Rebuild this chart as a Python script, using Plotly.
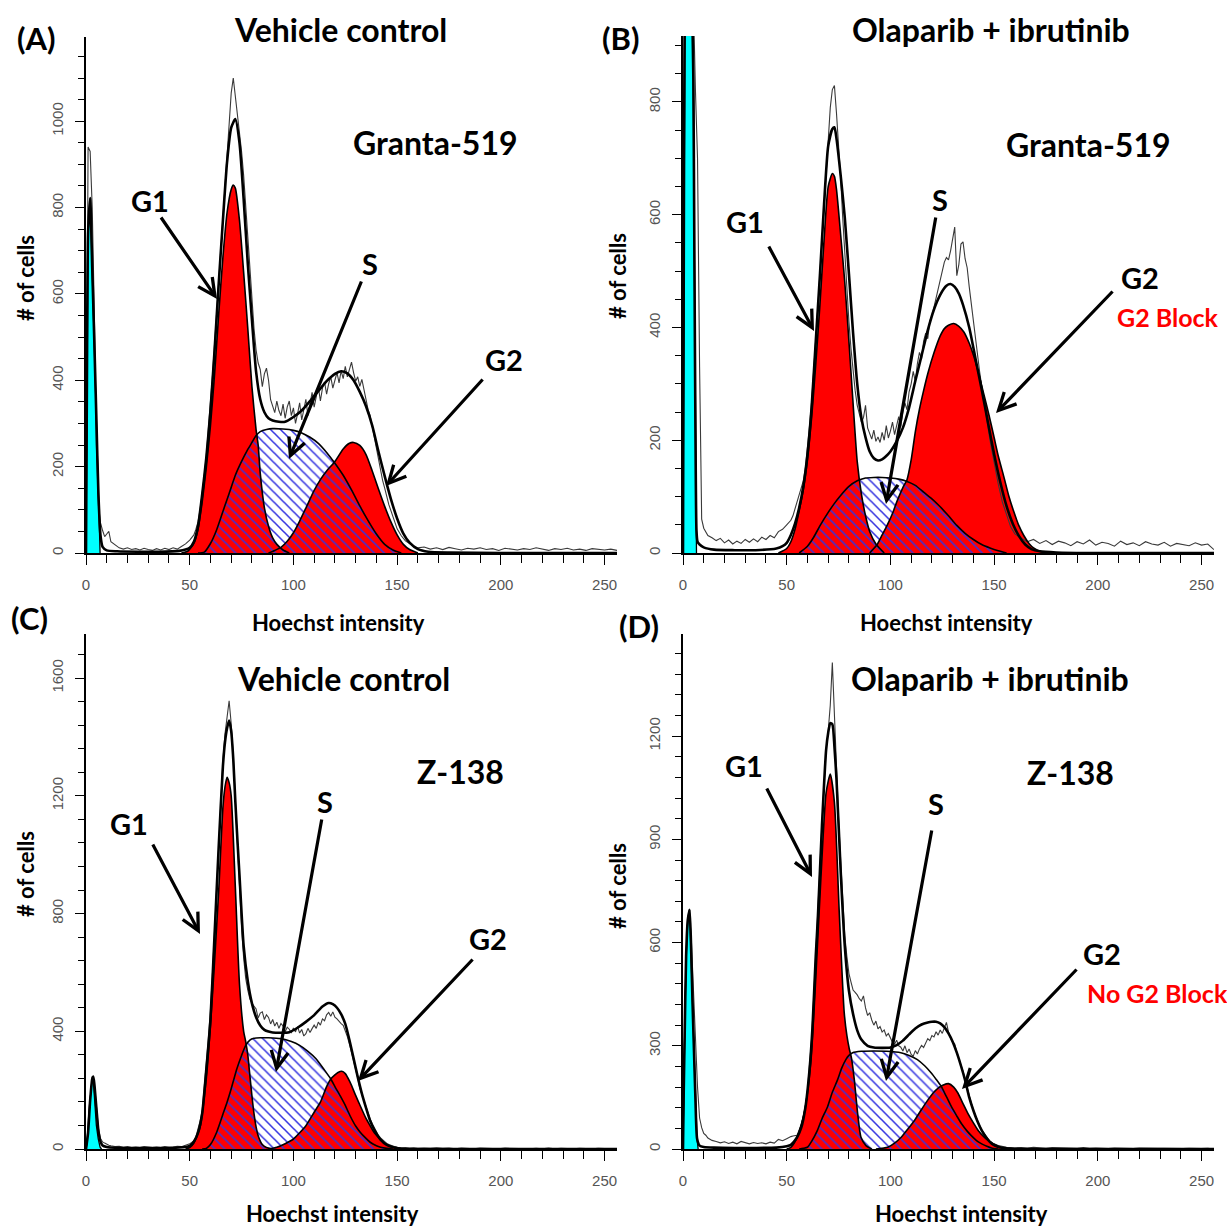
import plotly.graph_objects as go

W, H = 1227, 1228
RED = '#ff0000'
CYAN = '#00ffff'
HATCH = '#3434e0'

# ---------------- channel grid for raw histograms ----------------
RAW_X = (list(range(0, 13)) + list(range(14, 50, 2)) + list(range(50, 151))
         + list(range(152, 161, 2)) + list(range(163, 257, 3)))

# ---------------- Panel A : Granta-519, vehicle control ----------------
A_raw_y = ([0, 940, 930, 800, 560, 250, 110, 70, 52, 38, 44, 50, 26]
           + [18, 12, 9, 12, 8, 10, 7, 11, 8, 6, 10, 7, 11, 8, 12, 9, 15, 21]
           + [30, 36, 42, 55, 72, 100, 135, 178, 225, 282,
              345, 412, 485, 560, 640, 715, 790, 860, 930, 1000,
              1065, 1100, 1060, 1020, 975, 930, 875, 800, 720, 650,
              580, 520, 470, 440, 425, 385, 415, 428, 400, 355,
              340, 325, 352, 330, 318, 345, 312, 338, 352, 318,
              336, 300, 322, 348, 308, 332, 356, 318, 346, 372,
              338, 366, 386, 352, 382, 396, 368, 392, 408, 382,
              402, 418, 394, 422, 404, 432, 408, 426, 442, 418,
              398, 408, 386, 402, 378, 352, 332, 318, 292, 268,
              238, 214, 188, 168, 150, 128, 112, 98, 84, 70,
              56]
           + [40, 28, 22, 15, 12]
           + [14, 9, 12, 8, 13, 10, 7, 11, 9, 12, 8, 10, 6, 11, 9, 7, 10, 8, 12, 9, 6, 10, 8, 11, 7, 9, 6, 10, 8, 7, 9, 6])
A_deb_x = [0, 0.4, 1, 2, 3, 4, 5, 6, 6.8]
A_deb_y = [0, 420, 740, 822, 660, 490, 310, 130, 0]
A_fit_x = [0, 0.5, 1, 2, 3, 4, 5, 6, 7, 8, 10, 15, 25, 35, 45, 48, 50, 52, 54, 56, 58, 60, 62, 64, 66, 68,
           70, 72, 74, 76, 78, 80, 82, 84, 86, 88, 90, 93, 96, 100, 104, 108, 112, 116, 120, 123,
           126, 129, 132, 135, 138, 141, 144, 147, 150, 153, 156, 160, 165, 175, 200, 256]
A_fit_y = [0, 450, 740, 822, 662, 492, 312, 135, 40, 14, 6, 4, 3, 3, 5, 8, 12, 26, 62, 135, 220, 330, 470, 625, 770, 905,
           985, 1005, 950, 820, 670, 540, 420, 356, 326, 312, 307, 304, 304, 315, 330, 352, 375, 398, 415, 421,
           416, 400, 373, 340, 295, 235, 178, 125, 80, 45, 24, 9, 3, 1, 0, 0]
A_g1_x = [46, 49, 52, 54, 56, 58, 60, 62, 64, 66, 68, 70, 71, 72, 74, 76, 78, 80, 82, 83, 84, 86, 88, 90, 92, 95, 98]
A_g1_y = [0, 4, 22, 55, 118, 198, 295, 415, 555, 685, 788, 842, 852, 845, 770, 650, 520, 385, 285, 250, 185, 105, 62, 35, 20, 7, 0]
A_s_x = [54, 57, 60, 63, 66, 68, 70, 72, 75, 78, 80, 82, 84, 87, 90, 95, 100, 104, 108, 112, 116, 120, 124, 128, 132, 136, 140, 144, 148, 152]
A_s_y = [0, 2, 22, 54, 96, 124, 152, 180, 212, 240, 256, 272, 281, 286, 288, 287, 284, 278, 268, 254, 233, 208, 180, 146, 109, 75, 44, 20, 7, 0]
A_g2_x = [88, 91, 94, 97, 100, 103, 106, 110, 113, 116, 120, 124, 127, 129, 132, 135, 138, 141, 144, 147, 150, 153, 156, 160]
A_g2_y = [0, 6, 13, 27, 47, 74, 104, 145, 170, 190, 212, 241, 254, 256, 249, 228, 190, 148, 108, 72, 42, 20, 8, 0]

# ---------------- Panel B : Granta-519, olaparib + ibrutinib ----------------
B_raw_y = ([0, 1400, 1800, 1550, 1250, 980, 820, 700, 330, 60, 44, 36, 31]
           + [27, 22, 26, 18, 23, 16, 21, 17, 24, 19, 25, 20, 28, 24, 31, 27, 38, 42]
           + [50, 54, 58, 66, 78, 92, 100, 112, 128, 150,
              185, 225, 268, 320, 378, 435, 495, 555, 620, 680,
              730, 790, 822, 829, 780, 730, 665, 595, 525, 465,
              410, 362, 320, 288, 262, 245, 232, 240, 262, 222,
              210, 202, 218, 198, 206, 196, 214, 200, 226, 204,
              216, 232, 210, 226, 242, 224, 252, 266, 254, 286,
              300, 322, 304, 336, 356, 344, 376, 390, 380, 412,
              420, 436, 452, 470, 482, 500, 516, 524, 520, 536,
              560, 578, 492, 512, 548, 552, 522, 506, 472, 440,
              410, 380, 350, 322, 296, 270, 246, 222, 200, 180,
              160]
           + [122, 90, 66, 46, 34]
           + [26, 20, 24, 17, 22, 15, 21, 18, 13, 20, 16, 23, 14, 19, 17, 12, 21, 15, 18, 13, 20, 16, 14, 19, 12, 17, 15, 13, 18, 14, 16, 6])
B_deb_x = [0, 0.5, 1, 2, 3, 4, 4.5, 5, 5.5, 6, 6.5]
B_deb_y = [0, 700, 1050, 1350, 1250, 1050, 950, 840, 520, 220, 0]
B_fit_x = [0, 0.5, 1, 2, 3, 4, 4.5, 5, 5.5, 6, 6.5, 7, 8, 10, 15, 25, 35, 45, 48, 50, 52, 54, 56, 58, 60, 62, 64, 66, 68, 70,
           72, 73, 74, 76, 78, 80, 82, 84, 86, 88, 90, 92, 94, 96, 98, 100, 103, 106, 109, 112,
           115, 118, 121, 124, 127, 129, 131, 133, 135, 138, 141, 144, 147, 150, 153, 156, 159, 162, 165, 168,
           172, 180, 200, 256]
B_fit_y = [0, 700, 1050, 1350, 1250, 1050, 950, 840, 520, 220, 40, 20, 15, 10, 6, 5, 5, 8, 12, 18, 32, 52, 80, 118, 175, 258, 375, 492, 618, 722,
           752, 755, 735, 670, 595, 495, 390, 300, 240, 205, 180, 168, 164, 166, 172, 180, 198, 222, 258, 305,
           350, 395, 432, 458, 474, 477, 472, 460, 440, 400, 345, 290, 232, 175, 125, 83, 52, 30, 15, 7,
           3, 1, 0, 0]
B_g1_x = [46, 50, 52, 54, 56, 58, 60, 62, 64, 66, 68, 70, 72, 73, 74, 76, 78, 80, 82, 84, 86, 88, 90, 93, 97]
B_g1_y = [0, 8, 20, 42, 75, 112, 165, 240, 335, 440, 555, 650, 673, 668, 645, 565, 480, 375, 265, 162, 105, 66, 38, 16, 0]
B_s_x = [56, 60, 63, 66, 70, 73, 76, 80, 84, 88, 92, 96, 100, 104, 108, 112, 116, 120, 124, 128, 132, 136, 140, 144, 148, 152, 156]
B_s_y = [0, 12, 28, 48, 72, 88, 102, 118, 128, 133, 134, 134, 133, 131, 127, 120, 108, 96, 82, 66, 49, 35, 24, 15, 9, 4, 0]
B_g2_x = [90, 93.6, 96, 98.4, 101, 103.2, 106, 108, 110, 112, 114, 116, 118, 121, 124, 126, 128, 130.5, 133, 135.4,
          138, 140.2, 143, 145, 147.5, 149.8, 152, 154.7, 157, 159.5, 162, 164.3, 167, 169, 172, 175]
B_g2_y = [0, 15, 32, 49, 70, 92, 116, 130, 165, 215, 255, 288, 318, 355, 385, 398, 404, 407, 402, 392,
          372, 349, 312, 282, 245, 208, 172, 135, 102, 73, 48, 31, 16, 9, 3, 0]

# ---------------- Panel C : Z-138, vehicle control ----------------
C_raw_y = ([0, 60, 170, 246, 225, 150, 70, 36, 24, 20, 15, 13, 11]
           + [8, 9, 6, 8, 5, 7, 5, 8, 6, 5, 7, 5, 8, 6, 7, 9, 8, 12]
           + [18, 22, 28, 42, 65, 95, 130, 200, 290, 375,
              470, 600, 750, 910, 1070, 1200, 1320, 1410, 1470, 1523,
              1445, 1335, 1185, 1025, 880, 750, 650, 580, 540, 510,
              495, 485, 476, 445, 462, 466, 440, 456, 447, 425,
              440, 418, 431, 410, 426, 418, 398, 414, 407, 394,
              411, 398, 416, 394, 406, 384, 392, 410, 396, 409,
              421, 410, 431, 421, 442, 436, 456, 464, 451, 466,
              448, 442, 432, 426, 420, 402, 382, 356, 330, 302,
              272, 242, 207, 186, 162, 140, 120, 101, 86, 71,
              56, 46, 38, 31, 25, 19, 15, 12, 10, 8,
              6]
           + [4, 5, 3, 4, 2]
           + [3, 2, 4, 2, 3, 1, 3, 2, 1, 3, 2, 2, 1, 3, 2, 1, 2, 1, 2, 1, 3, 1, 2, 1, 1, 2, 1, 1, 2, 1, 1, 0])
C_deb_x = [0, 0.5, 1.5, 2.5, 3.1, 3.6, 4.3, 5, 5.9, 6.8, 7.5]
C_deb_y = [0, 20, 136, 220, 244, 225, 140, 80, 34, 6, 0]
C_fit_x = [0, 1, 2, 3, 3.5, 4, 5, 6, 7, 8, 10, 15, 25, 35, 45, 48, 50, 52, 54, 56, 58, 60, 62, 64, 66, 67, 68, 69, 70, 71,
           72, 73, 74, 76, 78, 80, 82, 84, 86, 88, 90, 94, 98, 102, 106, 110, 114, 117, 119, 121,
           123, 125, 127, 129, 131, 133, 135, 137, 139, 142, 145, 148, 152, 160, 256]
C_fit_y = [0, 55, 165, 238, 246, 222, 140, 60, 25, 12, 7, 4, 3, 3, 5, 7, 11, 25, 55, 120, 270, 440, 730, 1030, 1300, 1382, 1430, 1456, 1420, 1325,
           1180, 1050, 930, 690, 570, 495, 448, 420, 405, 399, 396, 395, 397, 412, 432, 455, 484, 496, 492, 480,
           458, 425, 370, 308, 245, 188, 140, 96, 65, 32, 14, 6, 1, 0, 0]
C_g1_x = [48, 50, 52, 55, 58, 60, 62, 64, 66, 67, 68, 69, 70, 72, 74, 76, 77, 78, 79, 80, 81, 82, 83, 85, 87, 90]
C_g1_y = [0, 5, 20, 75, 240, 420, 640, 880, 1160, 1230, 1263, 1245, 1200, 890, 560, 400, 365, 320, 250, 180, 120, 75, 45, 15, 5, 0]
C_s_x = [56, 58, 60, 63, 66, 68, 70, 72.7, 75, 77, 79, 81, 84, 88, 94, 99, 103, 107, 111, 115, 118, 120, 122.5, 125,
         127.3, 130, 132.2, 135, 137, 140, 142, 145, 148]
C_s_y = [0, 2, 15, 57, 118, 159, 205, 272, 318, 352, 370, 376, 378, 378, 375, 365, 352, 332, 306, 268, 238, 212, 181, 148,
         113, 78, 57, 36, 23, 11, 6, 2, 0]
C_g2_x = [88, 92, 96, 100, 103, 106, 110, 113, 116, 118, 120, 121.5, 123.3, 125, 127.3, 130, 132.2, 135, 137, 139, 141.8, 144, 146.6, 150, 154]
C_g2_y = [0, 6, 18, 34, 55, 79, 125, 159, 212, 238, 252, 260, 264, 256, 227, 182, 147, 104, 79, 55, 34, 20, 9, 2, 0]

# ---------------- Panel D : Z-138, olaparib + ibrutinib ----------------
D_raw_y = ([0, 420, 640, 697, 610, 460, 310, 180, 90, 62, 45, 40, 32]
           + [25, 22, 18, 21, 16, 20, 15, 22, 18, 15, 19, 16, 18, 15, 20, 17, 28, 24]
           + [30, 34, 36, 38, 39, 40, 55, 70, 95, 125,
              170, 240, 320, 440, 575, 690, 810, 945, 1060, 1160,
              1215, 1290, 1414, 1250, 1110, 960, 840, 720, 620, 560,
              510, 485, 462, 455, 448, 437, 430, 445, 410, 388,
              396, 375, 360, 372, 349, 356, 340, 346, 329, 336,
              320, 310, 305, 316, 300, 296, 285, 300, 280, 291,
              275, 270, 286, 276, 291, 301, 295, 311, 321, 315,
              330, 326, 341, 331, 346, 336, 351, 368, 340, 322,
              311, 305, 281, 262, 250, 226, 201, 176, 152, 133,
              112, 96, 82, 68, 56, 46, 38, 30, 23, 19,
              15]
           + [10, 7, 5, 4, 3]
           + [4, 3, 5, 3, 2, 4, 3, 2, 3, 2, 4, 2, 3, 2, 1, 3, 2, 2, 1, 3, 2, 1, 2, 2, 1, 2, 1, 2, 1, 1, 2, 0])
D_deb_x = [0, 0.3, 0.8, 1.5, 2.3, 3.2, 4, 4.6, 5.2, 6, 6.8, 7.3]
D_deb_y = [0, 150, 330, 560, 665, 695, 565, 425, 305, 145, 30, 0]
D_fit_x = [0, 0.3, 0.8, 1.5, 2.3, 3.2, 4, 4.6, 5.2, 6, 6.8, 8, 10, 15, 25, 35, 45, 50, 52, 55,
           57, 59, 61, 62.4, 64, 65, 67, 69, 70, 71, 72, 73, 74, 76, 78, 80, 82, 84, 86, 89,
           92, 96, 100, 103, 106, 109, 112, 115, 118, 120, 122, 124, 126, 128, 130, 132, 134, 136, 138, 140,
           142, 144, 146, 149, 152, 156, 165, 256]
D_fit_y = [0, 150, 330, 560, 665, 695, 565, 425, 305, 145, 30, 10, 6, 4, 3, 3, 4, 8, 12, 34,
           62, 120, 230, 350, 560, 670, 940, 1160, 1210, 1238, 1235, 1170, 1075, 810, 590, 460, 392, 345, 318, 300,
           295, 294, 295, 302, 315, 333, 350, 362, 368, 370, 370, 365, 354, 336, 312, 280, 242, 200, 150, 112,
           80, 54, 35, 15, 6, 2, 0, 0]
D_g1_x = [50, 52, 55, 58.4, 61.6, 64, 66.5, 69, 71, 73, 75.3, 77.7, 79, 80.2, 81.2, 82.6, 84.2, 85.8, 88.2, 91]
D_g1_y = [0, 5, 34, 103, 250, 496, 790, 1036, 1090, 1007, 692, 398, 330, 290, 265, 201, 103, 34, 10, 0]
D_s_x = [56, 58, 60, 62, 64.8, 67, 69.7, 72, 74.5, 76.5, 78.5, 80, 81.8, 86, 92, 98, 105, 109, 113, 116.5, 119.7,
         122, 124.5, 127, 129.4, 132, 134.2, 137, 139, 142, 144, 146.5, 148.7, 152]
D_s_y = [0, 2, 5, 22, 54, 88, 123, 165, 201, 235, 260, 272, 280, 284, 285, 284, 280, 272, 260, 242, 221,
         203, 182, 152, 123, 96, 74, 52, 39, 22, 15, 8, 3, 0]
D_g2_x = [93, 98.7, 102, 105.2, 108, 111.6, 115, 118, 120.5, 123, 125.5, 128, 130.5, 132.6, 135, 137.4, 140, 142.3, 145, 147.1, 150, 152, 155, 158]
D_g2_y = [0, 5, 17, 34, 55, 83, 115, 142, 162, 177, 186, 190, 180, 162, 132, 103, 76, 54, 36, 25, 13, 8, 3, 0]

# ---------------- labels ----------------
TREATMENTS = ['Vehicle control', 'Olaparib + ibrutinib', 'Vehicle control', 'Olaparib + ibrutinib']
CELL_LINES = ['Granta-519', 'Granta-519', 'Z-138', 'Z-138']
PANEL_TAGS = ['(A)', '(B)', '(C)', '(D)']
PHASES = ['G1', 'S', 'G2']
BLOCK_NOTES = [None, 'G2 Block', None, 'No G2 Block']
X_TITLE = 'Hoechst intensity'
Y_TITLE = '# of cells'
G1_MEAN_MARK = [None, 72.3, 68.6, 72.3]

for arr in (A_raw_y, B_raw_y, C_raw_y, D_raw_y):
    assert len(arr) == len(RAW_X), (len(arr), len(RAW_X))

DATA = [
    dict(raw=A_raw_y, deb=(A_deb_x, A_deb_y), fit=(A_fit_x, A_fit_y), g1=(A_g1_x, A_g1_y), s=(A_s_x, A_s_y), g2=(A_g2_x, A_g2_y)),
    dict(raw=B_raw_y, deb=(B_deb_x, B_deb_y), fit=(B_fit_x, B_fit_y), g1=(B_g1_x, B_g1_y), s=(B_s_x, B_s_y), g2=(B_g2_x, B_g2_y)),
    dict(raw=C_raw_y, deb=(C_deb_x, C_deb_y), fit=(C_fit_x, C_fit_y), g1=(C_g1_x, C_g1_y), s=(C_s_x, C_s_y), g2=(C_g2_x, C_g2_y)),
    dict(raw=D_raw_y, deb=(D_deb_x, D_deb_y), fit=(D_fit_x, D_fit_y), g1=(D_g1_x, D_g1_y), s=(D_s_x, D_s_y), g2=(D_g2_x, D_g2_y)),
]

# ---------------- layout geometry (pixels) ----------------
GEOM = [
    dict(x0=86, x1=617, y0=37, y1=553, ymax=1195, major=200, minor=50),
    dict(x0=683, x1=1214, y0=36, y1=553, ymax=917, major=200, minor=50),
    dict(x0=86, x1=617, y0=634, y1=1149, ymax=1750, major=400, minor=80),
    dict(x0=683, x1=1214, y0=634, y1=1149, ymax=1497, major=300, minor=60),
]
TEXT_POS = [
    dict(tag=(36, 38), title=(340, 29), line=(435, 143), yt=(25, 278), xt=(338, 622),
         G1=(150, 201), S=(370, 263), G2=(504, 359), note=None,
         arrows=[((160, 216), (217, 299)), ((362, 280), (289, 459)), ((484, 378), (386, 486))]),
    dict(tag=(620, 38), title=(991, 29), line=(1088, 144), yt=(617, 276), xt=(946, 622),
         G1=(745, 222), S=(940, 200), G2=(1140, 277), note=(1168, 317),
         arrows=[((768, 245), (814, 331)), ((936, 216), (886, 504)), ((1114, 290), (996, 413))]),
    dict(tag=(29, 618), title=(343, 678), line=(460, 772), yt=(25, 874), xt=(332, 1213),
         G1=(129, 823), S=(325, 801), G2=(488, 938), note=None,
         arrows=[((152, 843), (200, 934)), ((322, 818), (276, 1072)), ((474, 958), (358, 1081))]),
    dict(tag=(639, 626), title=(990, 678), line=(1070, 773), yt=(617, 886), xt=(962, 1213),
         G1=(744, 765), S=(936, 803), G2=(1102, 953), note=(1157, 993),
         arrows=[((766, 787), (812, 877)), ((932, 829), (886, 1081)), ((1078, 968), (962, 1089))]),
]

FONT_B = 'Lato, Carlito, Calibri, sans-serif'
FONT_T = 'Liberation Sans, Arial, sans-serif'


def px(x, y):
    return x / W, 1 - y / H


fig = go.Figure()
layout = dict(width=W, height=H, autosize=False, margin=dict(l=0, r=0, t=0, b=0, autoexpand=False),
              paper_bgcolor='white', plot_bgcolor='white', showlegend=False)
annotations = []

for i, (d, g, tp) in enumerate(zip(DATA, GEOM, TEXT_POS)):
    n = '' if i == 0 else str(i + 1)
    xa, ya = 'x' + n, 'y' + n
    common = dict(xaxis=xa, yaxis=ya, mode='lines', hoverinfo='skip')
    sm = dict(shape='spline', smoothing=0.6)
    # fills
    fig.add_trace(go.Scatter(x=d['deb'][0], y=d['deb'][1], fill='tozeroy', fillcolor=CYAN,
                             line=dict(width=0), **common))
    fig.add_trace(go.Scatter(x=d['g1'][0], y=d['g1'][1], fill='tozeroy', fillcolor=RED,
                             line=dict(width=0, **sm), **common))
    fig.add_trace(go.Scatter(x=d['g2'][0], y=d['g2'][1], fill='tozeroy', fillcolor=RED,
                             line=dict(width=0, **sm), **common))
    fig.add_trace(go.Scatter(x=d['s'][0], y=d['s'][1], fill='tozeroy', fillcolor='rgba(0,0,0,0)',
                             fillpattern=dict(shape='\\', fgcolor=HATCH, bgcolor='rgba(0,0,0,0)',
                                              size=7, solidity=0.22, fillmode='replace'),
                             line=dict(width=0, **sm), **common))
    # raw histogram
    fig.add_trace(go.Scatter(x=RAW_X, y=d['raw'], line=dict(color='#3a3a3a', width=1.1), **common))
    # outlines
    fig.add_trace(go.Scatter(x=d['deb'][0], y=d['deb'][1], line=dict(color='black', width=1.3), **common))
    for k in ('g1', 'g2', 's'):
        fig.add_trace(go.Scatter(x=d[k][0], y=d[k][1], line=dict(color='black', width=1.6, **sm), **common))
    fig.add_trace(go.Scatter(x=d['fit'][0], y=d['fit'][1], line=dict(color='black', width=2.6, **sm), **common))

    # G1 mean marker below axis
    if G1_MEAN_MARK[i] is not None:
        scale = (g['y1'] - g['y0']) / g['ymax']
        fig.add_trace(go.Scatter(x=[G1_MEAN_MARK[i]], y=[-13 / scale], xaxis=xa, yaxis=ya, mode='markers',
                                 marker=dict(symbol='triangle-up', size=15, color='black'),
                                 cliponaxis=False, hoverinfo='skip'))

    layout['xaxis' + n] = dict(
        domain=[g['x0'] / W, g['x1'] / W], range=[0, 256], anchor=ya, automargin=False,
        showline=True, linecolor='black', linewidth=1.6, showgrid=False, zeroline=False,
        ticks='outside', ticklen=10, tickwidth=1.3, tickcolor='black', tick0=0, dtick=50,
        tickfont=dict(family=FONT_T, size=15, color='#555555'), ticklabelstandoff=7,
        minor=dict(dtick=10, tick0=0, ticks='outside', ticklen=8, tickwidth=1.3, tickcolor='black', showgrid=False),
        fixedrange=True)
    layout['yaxis' + n] = dict(
        domain=[1 - g['y1'] / H, 1 - g['y0'] / H], range=[0, g['ymax']], anchor=xa, automargin=False,
        showline=True, linecolor='black', linewidth=1.6, showgrid=False, zeroline=False,
        ticks='outside', ticklen=9, tickwidth=1.3, tickcolor='black', tick0=0, dtick=g['major'],
        tickangle=-90, tickfont=dict(family=FONT_T, size=15, color='#555555'), ticklabelstandoff=6,
        minor=dict(dtick=g['minor'], tick0=0, ticks='outside', ticklen=6, tickwidth=1.3, tickcolor='black', showgrid=False),
        fixedrange=True)

    def txt(pos, text, size, color='black', angle=0, family=FONT_B):
        x, y = px(*pos)
        annotations.append(dict(x=x, y=y, xref='paper', yref='paper', text='<b>%s</b>' % text,
                                showarrow=False, xanchor='center', yanchor='middle', textangle=angle,
                                font=dict(family=family, size=size, color=color)))

    txt(tp['tag'], PANEL_TAGS[i], 31)
    txt(tp['title'], TREATMENTS[i], 32)
    txt(tp['line'], CELL_LINES[i], 32)
    txt(tp['yt'], Y_TITLE, 22, angle=-90)
    txt(tp['xt'], X_TITLE, 22)
    for ph in PHASES:
        txt(tp[ph], ph, 29)
    if BLOCK_NOTES[i]:
        txt(tp['note'], BLOCK_NOTES[i], 25, color=RED)
    for (tail, head) in tp['arrows']:
        hx, hy = px(*head)
        annotations.append(dict(x=hx, y=hy, xref='paper', yref='paper', text='',
                                ax=tail[0] - head[0], ay=tail[1] - head[1], axref='pixel', ayref='pixel',
                                showarrow=True, arrowhead=5, arrowsize=1.05, arrowwidth=3.2,
                                arrowcolor='black', standoff=0, startstandoff=0))

layout['annotations'] = annotations
fig.update_layout(**layout)
fig.write_html('out.html', config={'responsive': False, 'displayModeBar': False},
               post_script="document.body.style.margin='0';document.body.style.overflow='hidden';"
                           "document.documentElement.style.overflow='hidden';")
